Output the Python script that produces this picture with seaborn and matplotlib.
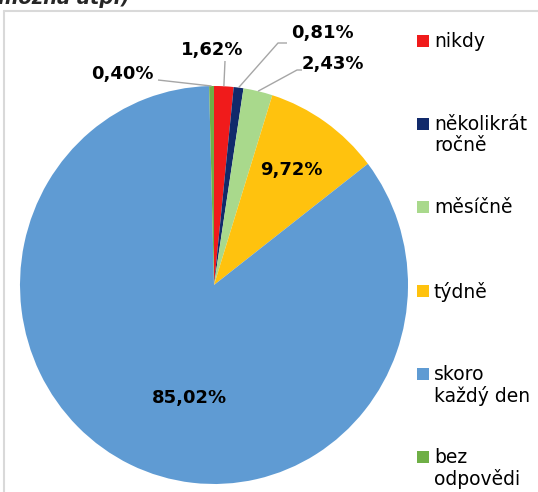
import numpy as np
import seaborn as sns
import matplotlib.pyplot as plt
from matplotlib.lines import Line2D
from matplotlib.patches import Rectangle

# data
categories = ["nikdy", "několikrát\nročně", "měsíčně", "týdně", "skoro\nkaždý den", "bez\nodpovědi"]
shares = [1.62, 0.81, 2.43, 9.72, 85.02, 0.40]
share_labels = ["1,62%", "0,81%", "2,43%", "9,72%", "85,02%", "0,40%"]
slice_colors = ["#F01B1B", "#112A6B", "#A9D98C", "#FFC20E", "#5F9BD3", "#6FAF46"]
title_tail = "možná atp.)"

W, H = 538, 492
CX, CY, RX, RY = 214, 285, 194, 199


def px2data(px, py):
    return (px - CX) / RX, (CY - py) / RY


sns.set_theme(style="white")
plt.rcParams["font.family"] = ["DejaVu Sans"]

fig = plt.figure(figsize=(W / 100, H / 100), dpi=100)

# cut-off title and chart frame
fig.text(-2 / W, 1 - 4 / H, title_tail, fontsize=14, fontweight="bold",
         fontstyle="italic", va="baseline", ha="left")
frame = "#D9D9D9"
fig.add_artist(Line2D([4 / W, 4 / W], [0, 1 - 11 / H], color=frame, lw=1.5,
                      transform=fig.transFigure))
fig.add_artist(Line2D([4 / W, 1], [1 - 11 / H, 1 - 11 / H], color=frame, lw=1.5,
                      transform=fig.transFigure))

ax = fig.add_axes([(CX - RX) / W, (H - CY - RY) / H, 2 * RX / W, 2 * RY / H])
wedges, _ = ax.pie(shares, colors=sns.color_palette(slice_colors), startangle=90,
                   counterclock=False, radius=1, wedgeprops=dict(linewidth=0))
ax.set_aspect("auto")
ax.set_xlim(-1, 1)
ax.set_ylim(-1, 1)
ax.axis("off")

# label placement (pixel positions) and leader line elbows
label_pos = [(212, 50), (322, 33), (333, 64), (291, 170), (189, 398), (122, 74)]
leaders = {0: [(225, 61)], 1: [(287, 43), (278, 43)], 2: [(302, 70), (297, 70)],
           5: [(158, 80)]}

for i, (w, txt) in enumerate(zip(wedges, share_labels)):
    lx, ly = px2data(*label_pos[i])
    ax.text(lx, ly, txt, ha="center", va="center", fontsize=13,
            fontweight="bold", color="black", clip_on=False)
    if i in leaders:
        mid = np.deg2rad((w.theta1 + w.theta2) / 2)
        pts = [px2data(*p) for p in leaders[i]] + [(np.cos(mid), np.sin(mid))]
        xs, ys = zip(*pts)
        ax.plot(xs, ys, color="#A6A6A6", lw=1, solid_capstyle="butt",
                clip_on=False, zorder=3)

# legend drawn entry by entry
for i, (cat, col) in enumerate(zip(categories, slice_colors)):
    yc = 41 + i * 83.2
    fig.add_artist(Rectangle((417 / W, 1 - (yc + 6) / H), 12 / W, 12 / H,
                             facecolor=col, edgecolor="none",
                             transform=fig.transFigure))
    fig.text(434 / W, 1 - (yc - 9) / H, cat, ha="left", va="top",
             fontsize=13.5, linespacing=1.15, color="black")

fig.savefig("out.png", dpi=100)
